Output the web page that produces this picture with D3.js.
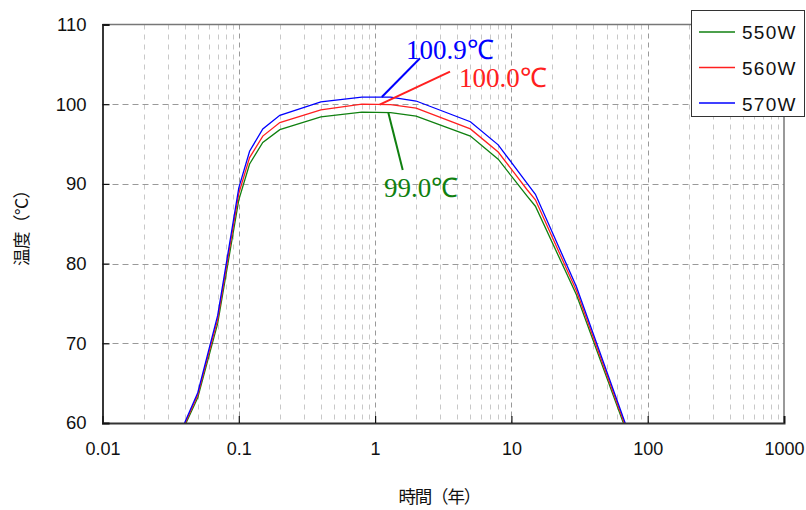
<!DOCTYPE html>
<html>
<head>
<meta charset="utf-8">
<script src="https://cdn.jsdelivr.net/npm/d3@7"></script>
<style>
  body { margin: 0; background: #fff; }
  svg { display: block; font-family: "Liberation Sans", Arial, sans-serif; }
</style>
</head>
<body>
<svg id="chart" width="806" height="510"></svg>
<script>
// time axis (years) and temperatures for each power
var times   = [0.04, 0.05, 0.07, 0.1, 0.12, 0.15, 0.2, 0.4, 0.8, 1.3, 2, 5, 8, 13, 15, 30, 70];
var temp550 = [59.6, 63.2, 72.5, 88.0, 92.5, 95.2, 96.8, 98.4, 99.0, 98.95, 98.5, 96.0, 93.1, 88.5, 87.2, 76.1, 58.9];
var temp560 = [59.8, 63.5, 73.0, 88.8, 93.3, 96.0, 97.7, 99.3, 100.0, 99.95, 99.5, 96.9, 94.0, 89.3, 88.0, 76.6, 59.2];
var temp570 = [60.0, 63.8, 73.5, 89.5, 94.1, 96.9, 98.6, 100.3, 100.9, 100.9, 100.4, 97.8, 94.9, 90.1, 88.7, 77.1, 59.5];

var seriesNames = ["550W", "560W", "570W"];
var seriesColors = ["#108010", "#ff2020", "#0000ff"];

var xTicks = [0.01, 0.1, 1, 10, 100, 1000];
var yTicks = [60, 70, 80, 90, 100, 110];

// peak labels
var peakLabels = [
  {t: 1.25, v: 98.95, text: "99.0℃"},
  {t: 1.08, v: 99.95, text: "100.0℃"},
  {t: 1.12, v: 100.9, text: "100.9℃"}
];

var plotL = 102.5, plotR = 784, plotT = 24.5, plotB = 423;

var svg = d3.select("#chart");

var x = d3.scaleLog()
          .domain([0.01, 1000])
          .range([plotL, plotR]);

var y = d3.scaleLinear()
          .domain([60, 110])
          .range([plotB, plotT]);

function drawGrid() {
  var g = svg.append("g");

  var minor = [];
  xTicks.forEach(function(d, i){
    if (i < xTicks.length - 1) {
      for (var k = 2; k <= 9; k++) minor.push(d * k);
    }
  });

  g.selectAll(".minor")
   .data(minor)
   .enter()
   .append("line")
   .attr("x1", function(d){ return Math.round(x(d)) + 0.5; })
   .attr("x2", function(d){ return Math.round(x(d)) + 0.5; })
   .attr("y1", plotT)
   .attr("y2", plotB)
   .attr("stroke", "#c8c8c8")
   .attr("stroke-dasharray", "5,5");

  g.selectAll(".major")
   .data(xTicks.slice(1, -1))
   .enter()
   .append("line")
   .attr("x1", function(d){ return Math.round(x(d)) + 0.5; })
   .attr("x2", function(d){ return Math.round(x(d)) + 0.5; })
   .attr("y1", plotT)
   .attr("y2", plotB)
   .attr("stroke", "#999")
   .attr("stroke-dasharray", "5,4");

  g.selectAll(".hgrid")
   .data(yTicks.slice(1, -1))
   .enter()
   .append("line")
   .attr("x1", plotL)
   .attr("x2", plotR)
   .attr("y1", function(d){ return Math.round(y(d)) + 0.5; })
   .attr("y2", function(d){ return Math.round(y(d)) + 0.5; })
   .attr("stroke", "#999")
   .attr("stroke-dasharray", "6,4");
}

function drawAxes() {
  // frame
  svg.append("line")
     .attr("x1", plotL).attr("x2", plotR)
     .attr("y1", plotT).attr("y2", plotT)
     .attr("stroke", "#777").attr("stroke-width", 1.5);
  svg.append("line")
     .attr("x1", plotR).attr("x2", plotR)
     .attr("y1", plotT).attr("y2", plotB)
     .attr("stroke", "#777").attr("stroke-width", 1.5);

  var xAxis = svg.append("g")
                 .attr("transform", "translate(0," + plotB + ")")
                 .call(d3.axisBottom(x).tickValues(xTicks).tickSize(-7).tickPadding(19)
                         .tickFormat(function(d){ return String(d); }));
  xAxis.select(".domain").attr("stroke", "#333").attr("stroke-width", 2);
  xAxis.selectAll("line").attr("stroke", "#111").attr("stroke-width", 1.2);
  xAxis.selectAll("text")
       .attr("font-family", "Liberation Sans, Arial, sans-serif")
       .attr("font-size", 18)
       .attr("fill", "#111");

  var yAxis = svg.append("g")
                 .attr("transform", "translate(" + plotL + ",0)")
                 .call(d3.axisLeft(y).tickValues(yTicks).tickSize(-7).tickPadding(16));
  yAxis.select(".domain").attr("stroke", "#222").attr("stroke-width", 1.8);
  yAxis.selectAll("line").attr("stroke", "#111").attr("stroke-width", 1.2);
  yAxis.selectAll("text")
       .attr("font-family", "Liberation Sans, Arial, sans-serif")
       .attr("font-size", 18.5)
       .attr("fill", "#111");

  svg.append("text")
     .attr("x", (plotL + plotR) / 2 - 4)
     .attr("y", 503)
     .attr("text-anchor", "middle")
     .attr("font-family", "Noto Sans CJK JP, sans-serif")
     .attr("font-size", 17.5)
     .attr("letter-spacing", -1.2)
     .attr("fill", "#111")
     .text("時間（年）");

  svg.append("text")
     .attr("transform", "translate(28," + ((plotT + plotB) / 2) + ") rotate(-90)")
     .attr("text-anchor", "middle")
     .attr("font-family", "Noto Sans CJK JP, sans-serif")
     .attr("font-size", 17.5)
     .attr("letter-spacing", -0.5)
     .attr("fill", "#111")
     .text("温度（°C）");
}

function drawLines() {
  svg.append("clipPath")
     .attr("id", "plotclip")
     .append("rect")
     .attr("x", plotL).attr("y", plotT)
     .attr("width", plotR - plotL).attr("height", plotB - plotT);

  var line = d3.line()
               .x(function(d){ return x(d[0]); })
               .y(function(d){ return y(d[1]); });

  var all = [temp550, temp560, temp570];
  svg.append("g")
     .attr("clip-path", "url(#plotclip)")
     .selectAll("path")
     .data(all)
     .enter()
     .append("path")
     .attr("d", function(vals){
        return line(times.map(function(t, i){ return [t, vals[i]]; }));
     })
     .attr("fill", "none")
     .attr("stroke", function(d, i){ return seriesColors[i]; })
     .attr("stroke-width", 1.3);
}

function drawLabels() {
  // end of leader line and text position, in px
  var offsets = [
    {lx: 402.7, ly: 170, tx: 384, ty: 197},
    {lx: 450, ly: 71.7, tx: 459, ty: 87},
    {lx: 420, ly: 58.3, tx: 406, ty: 59}
  ];

  peakLabels.forEach(function(p, i){
    var o = offsets[i];
    svg.append("line")
       .attr("x1", x(p.t)).attr("y1", y(p.v))
       .attr("x2", o.lx).attr("y2", o.ly)
       .attr("stroke", seriesColors[i])
       .attr("stroke-width", 2);
    svg.append("text")
       .attr("x", o.tx)
       .attr("y", o.ty)
       .attr("font-family", "Liberation Serif, Times New Roman, serif")
       .attr("font-size", 27)
       .attr("fill", seriesColors[i])
       .text(p.text);
  });
}

function drawLegend() {
  var g = svg.append("g");

  g.append("rect")
   .attr("x", 691.5).attr("y", 10.5)
   .attr("width", 113).attr("height", 106)
   .attr("fill", "#fff")
   .attr("stroke", "#333");

  var items = g.selectAll(".item")
               .data(seriesNames)
               .enter()
               .append("g");

  items.append("line")
       .attr("x1", 699).attr("x2", 735)
       .attr("y1", function(d, i){ return 32 + i * 35.5; })
       .attr("y2", function(d, i){ return 32 + i * 35.5; })
       .attr("stroke", function(d, i){ return seriesColors[i]; })
       .attr("stroke-width", 1.3);

  items.append("text")
       .attr("x", 742)
       .attr("y", function(d, i){ return 38.5 + i * 36; })
       .attr("font-family", "Liberation Sans, Arial, sans-serif")
       .attr("font-size", 19)
       .attr("letter-spacing", 1.3)
       .attr("fill", "#111")
       .text(function(d){ return d; });
}

drawGrid();
drawLines();
drawAxes();
drawLabels();
drawLegend();
</script>
</body>
</html>
